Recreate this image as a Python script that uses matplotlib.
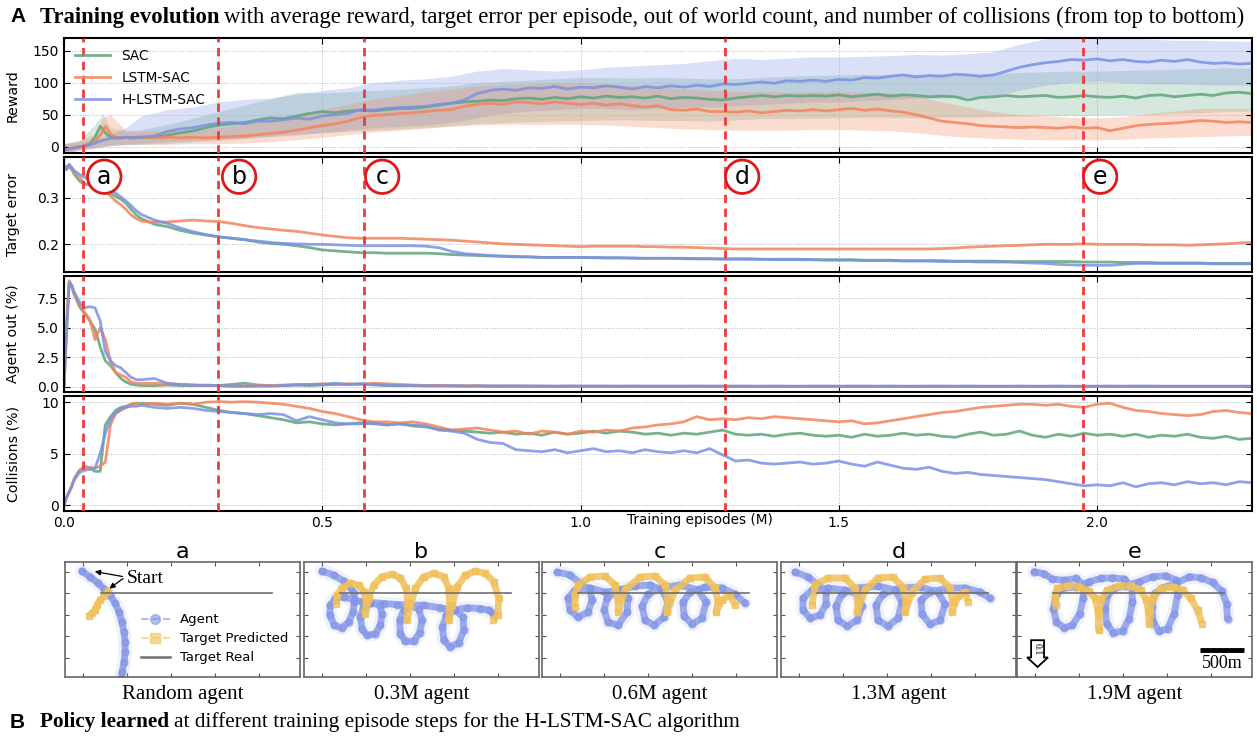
import matplotlib
matplotlib.use("Agg")
import matplotlib.pyplot as plt
import numpy as np
from matplotlib.lines import Line2D
from matplotlib.patches import Polygon

W, H = 1257, 740

# ---------------- training curves ----------------
# episode grid (M): fine at the start, then every 0.025 M
ep_early = [0.0, 0.005, 0.01, 0.015, 0.02, 0.03, 0.04, 0.05, 0.06, 0.07,
            0.08, 0.09, 0.10, 0.11, 0.12, 0.13, 0.14, 0.15]
episodes = np.concatenate([ep_early, np.round(np.arange(0.175, 2.3001, 0.025), 3)])

reward_sac = [-5, -4, -3, -2, -1, 0, 2, 5, 15, 32, 22, 15, 14, 14, 15, 14, 14, 15,
              15, 18, 22, 25, 30, 34, 36, 38, 42, 45,
              44, 48, 52, 55, 53, 56, 57, 56, 58, 60,
              60, 62, 65, 68, 70, 71, 73, 72, 75, 76,
              74, 77, 75, 78, 76, 79, 77, 78, 76, 79,
              75, 77, 76, 74, 73, 76, 78, 80, 78, 80,
              79, 80, 79, 81, 78, 80, 82, 79, 81, 80,
              78, 79, 78, 73, 77, 78, 80, 78, 79, 80,
              77, 78, 80, 78, 77, 79, 76, 80, 81, 78,
              80, 82, 80, 84, 85, 83]
reward_lstm = [-5, -4, -3, -2, -1, 0, 2, 4, 8, 18, 32, 20, 15, 14, 15, 14, 15, 15,
               14, 15, 14, 15, 14, 15, 16, 17, 19, 21,
               23, 26, 30, 33, 36, 40, 46, 49, 50, 52,
               53, 55, 57, 58, 63, 66, 68, 66, 70, 69,
               67, 70, 68, 66, 68, 65, 67, 64, 62, 64,
               58, 57, 59, 55, 55, 54, 56, 53, 55, 57,
               56, 58, 56, 58, 60, 57, 59, 56, 54, 50,
               45, 40, 38, 36, 33, 32, 31, 30, 31, 30,
               29, 31, 29, 30, 25, 29, 33, 35, 36, 37,
               39, 41, 40, 38, 39, 38]
reward_hlstm = [-5, -4, -3, -2, -2, 0, 1, 3, 6, 9, 11, 13, 14, 14, 15, 14, 15, 15,
                17, 24, 28, 30, 34, 37, 38, 36, 40, 40,
                42, 45, 43, 48, 50, 52, 58, 57, 60, 61,
                62, 63, 66, 68, 73, 83, 88, 90, 88, 92,
                91, 94, 90, 93, 92, 95, 93, 90, 94, 92,
                95, 93, 96, 94, 98, 97, 99, 101, 99, 103,
                102, 104, 102, 105, 104, 108, 107, 110, 112, 109,
                111, 110, 113, 112, 110, 112, 118, 124, 128, 131,
                133, 136, 135, 137, 134, 136, 133, 132, 135, 133,
                136, 132, 130, 131, 129, 130]

# reward spread (shaded), on its own coarser grid
band_ep = np.concatenate([[0.0, 0.03, 0.06, 0.075, 0.09, 0.12, 0.15],
                          np.round(np.arange(0.2, 2.3001, 0.05), 3)])
sac_lo = [-8, -3, 0, 2, 3, 3, 4,
          5, 8, 10, 13, 16, 18, 22, 24, 26, 28, 30, 33, 36, 38, 39, 40, 41, 42, 42, 41,
          41, 40, 42, 44, 44, 45, 45, 46, 46, 45, 46, 46, 47, 48, 48, 49, 49, 50, 50, 52,
          53, 55, 56]
sac_hi = [5, 10, 35, 52, 30, 25, 27,
          35, 45, 55, 65, 75, 85, 84, 86, 88, 90, 92, 95, 100, 102, 104, 106, 108, 108, 107, 108,
          107, 106, 106, 108, 110, 111, 112, 113, 112, 113, 114, 113, 114, 116, 117, 118, 118, 119, 120, 121,
          122, 123, 122]
lstm_lo = [-10, -5, -2, 0, 2, 4, 4,
           4, 5, 5, 6, 8, 11, 15, 19, 23, 26, 29, 32, 34, 35, 35, 35, 35, 34, 32, 30,
           28, 27, 26, 26, 26, 27, 27, 26, 25, 22, 18, 15, 13, 12, 11, 11, 11, 12, 14, 15,
           16, 17, 18]
lstm_hi = [5, 10, 20, 45, 50, 25, 24,
           25, 27, 30, 35, 42, 50, 58, 66, 75, 80, 86, 90, 95, 97, 98, 100, 100, 98, 96, 93,
           90, 88, 86, 86, 85, 86, 86, 85, 84, 80, 70, 62, 55, 50, 48, 46, 45, 47, 52, 56,
           60, 60, 60]
hlstm_lo = [-10, -5, -2, 0, 2, 4, 5,
            8, 10, 12, 14, 17, 20, 22, 26, 30, 32, 34, 38, 45, 52, 56, 58, 60, 60, 58, 60,
            62, 62, 64, 66, 68, 70, 70, 72, 74, 76, 76, 78, 80, 88, 96, 100, 102, 100, 98, 98,
            97, 96, 96]
hlstm_hi = [5, 8, 12, 15, 20, 30, 48,
            58, 62, 70, 74, 76, 82, 88, 92, 100, 104, 106, 110, 118, 122, 120, 118, 120, 124, 126, 128,
            130, 134, 138, 136, 138, 140, 140, 141, 142, 144, 143, 145, 148, 160, 168, 172, 172, 170, 168, 166,
            166, 165, 164]

err_sac = [0.365, 0.362, 0.368, 0.36, 0.35, 0.336, 0.328, 0.33, 0.333, 0.33, 0.318, 0.31, 0.303, 0.297, 0.288, 0.275, 0.263, 0.255,
           0.243, 0.238, 0.23, 0.224, 0.22, 0.216, 0.213, 0.21, 0.205, 0.202,
           0.2, 0.197, 0.193, 0.188, 0.186, 0.184, 0.182, 0.182, 0.181, 0.181,
           0.181, 0.181, 0.18, 0.178, 0.177, 0.176, 0.175, 0.174, 0.173, 0.173,
           0.172, 0.172, 0.172, 0.172, 0.171, 0.171, 0.171, 0.17, 0.17, 0.17,
           0.17, 0.17, 0.169, 0.169, 0.169, 0.169, 0.169, 0.168, 0.168, 0.168,
           0.168, 0.167, 0.167, 0.167, 0.167, 0.166, 0.166, 0.166, 0.165, 0.165,
           0.165, 0.165, 0.164, 0.164, 0.164, 0.164, 0.163, 0.163, 0.163, 0.163,
           0.163, 0.163, 0.162, 0.162, 0.162, 0.161, 0.161, 0.161, 0.16, 0.16,
           0.16, 0.16, 0.159, 0.159, 0.159, 0.159]
err_lstm = [0.36, 0.366, 0.37, 0.362, 0.355, 0.345, 0.33, 0.327, 0.332, 0.325, 0.313, 0.304, 0.293, 0.285, 0.275, 0.263, 0.255, 0.25,
            0.247, 0.248, 0.25, 0.252, 0.25, 0.249, 0.245, 0.24, 0.236, 0.233,
            0.23, 0.228, 0.224, 0.22, 0.217, 0.214, 0.213, 0.213, 0.213, 0.213,
            0.212, 0.211, 0.21, 0.209, 0.207, 0.205, 0.203, 0.201, 0.2, 0.199,
            0.198, 0.197, 0.196, 0.195, 0.196, 0.196, 0.196, 0.196, 0.195, 0.195,
            0.194, 0.194, 0.193, 0.192, 0.191, 0.19, 0.19, 0.19, 0.19, 0.19,
            0.19, 0.19, 0.19, 0.19, 0.19, 0.19, 0.19, 0.19, 0.19, 0.19,
            0.19, 0.191, 0.192, 0.194, 0.195, 0.196, 0.197, 0.198, 0.199, 0.2,
            0.2, 0.2, 0.201, 0.2, 0.2, 0.2, 0.2, 0.199, 0.199, 0.199,
            0.198, 0.199, 0.2, 0.201, 0.203, 0.204]
err_hlstm = [0.37, 0.36, 0.372, 0.365, 0.358, 0.35, 0.344, 0.338, 0.335, 0.33, 0.322, 0.317, 0.31, 0.302, 0.293, 0.283, 0.272, 0.264,
             0.252, 0.245, 0.235, 0.227, 0.221, 0.216, 0.213, 0.21, 0.207, 0.204,
             0.202, 0.201, 0.2, 0.2, 0.199, 0.198, 0.197, 0.197, 0.197, 0.197,
             0.197, 0.196, 0.193, 0.185, 0.18, 0.178, 0.176, 0.175, 0.174, 0.173,
             0.172, 0.172, 0.172, 0.172, 0.172, 0.171, 0.171, 0.171, 0.17, 0.17,
             0.17, 0.169, 0.169, 0.169, 0.168, 0.168, 0.168, 0.168, 0.167, 0.167,
             0.167, 0.167, 0.166, 0.166, 0.166, 0.165, 0.165, 0.165, 0.164, 0.164,
             0.164, 0.163, 0.163, 0.163, 0.162, 0.162, 0.162, 0.161, 0.16, 0.159,
             0.157, 0.156, 0.155, 0.155, 0.155, 0.157, 0.159, 0.159, 0.159, 0.159,
             0.159, 0.159, 0.158, 0.158, 0.158, 0.158]

out_sac = [0, 5.0, 8.9, 8.5, 7.8, 6.8, 6.2, 5.6, 4.9, 3.4, 2.2, 1.8, 1.2, 0.7, 0.4, 0.2, 0.15, 0.1,
           0.1, 0.15, 0.1, 0.1, 0.15, 0.1, 0.2, 0.3, 0.15, 0.1,
           0.1, 0.15, 0.1, 0.15, 0.2, 0.2, 0.25, 0.15, 0.1, 0.1,
           0.1, 0.08, 0.1, 0.08, 0.06, 0.08, 0.06, 0.05, 0.06, 0.05,
           0.05, 0.04, 0.05, 0.05, 0.04, 0.05, 0.04, 0.05, 0.04, 0.04,
           0.04, 0.05, 0.04, 0.04, 0.05, 0.04, 0.04, 0.04, 0.05, 0.04,
           0.04, 0.04, 0.05, 0.04, 0.04, 0.04, 0.04, 0.05, 0.04, 0.04,
           0.04, 0.04, 0.04, 0.05, 0.04, 0.04, 0.04, 0.04, 0.04, 0.04,
           0.05, 0.04, 0.04, 0.04, 0.04, 0.04, 0.05, 0.04, 0.04, 0.04,
           0.04, 0.04, 0.04, 0.04, 0.04, 0.04]
out_lstm = [0, 5.5, 9.0, 8.6, 7.9, 7.0, 6.3, 5.7, 4.0, 5.0, 4.0, 2.2, 1.2, 1.0, 0.8, 0.4, 0.3, 0.3,
            0.3, 0.25, 0.2, 0.15, 0.1, 0.1, 0.05, 0.05, 0.1, 0.1,
            0.15, 0.2, 0.2, 0.25, 0.2, 0.25, 0.2, 0.3, 0.25, 0.2,
            0.15, 0.1, 0.12, 0.08, 0.1, 0.08, 0.06, 0.07, 0.05, 0.06,
            0.05, 0.05, 0.06, 0.05, 0.05, 0.04, 0.05, 0.05, 0.04, 0.05,
            0.05, 0.04, 0.05, 0.05, 0.04, 0.05, 0.04, 0.04, 0.05, 0.04,
            0.04, 0.05, 0.04, 0.04, 0.04, 0.05, 0.04, 0.04, 0.04, 0.04,
            0.05, 0.04, 0.04, 0.04, 0.04, 0.04, 0.04, 0.05, 0.04, 0.04,
            0.04, 0.04, 0.04, 0.04, 0.05, 0.04, 0.04, 0.04, 0.04, 0.04,
            0.04, 0.04, 0.04, 0.04, 0.04, 0.04]
out_hlstm = [0, 4.5, 8.8, 8.6, 8.0, 7.2, 6.7, 6.8, 6.7, 5.6, 3.0, 2.2, 1.8, 1.6, 1.2, 0.8, 0.6, 0.6,
             0.7, 0.3, 0.2, 0.15, 0.1, 0.1, 0.05, 0.05, 0.05, 0.05,
             0.1, 0.15, 0.2, 0.2, 0.3, 0.2, 0.25, 0.2, 0.15, 0.1,
             0.1, 0.08, 0.06, 0.08, 0.05, 0.06, 0.05, 0.05, 0.06, 0.05,
             0.05, 0.04, 0.05, 0.04, 0.05, 0.05, 0.04, 0.04, 0.05, 0.04,
             0.04, 0.04, 0.05, 0.04, 0.04, 0.04, 0.05, 0.04, 0.04, 0.04,
             0.04, 0.04, 0.04, 0.04, 0.05, 0.04, 0.04, 0.04, 0.04, 0.04,
             0.04, 0.05, 0.04, 0.04, 0.04, 0.04, 0.04, 0.04, 0.04, 0.04,
             0.04, 0.04, 0.04, 0.04, 0.04, 0.04, 0.04, 0.05, 0.04, 0.04,
             0.04, 0.04, 0.04, 0.04, 0.04, 0.04]

coll_sac = [0, 0.8, 1.3, 1.9, 2.6, 3.4, 3.8, 3.6, 3.3, 3.3, 7.8, 8.6, 9.2, 9.5, 9.6, 9.8, 9.9, 9.9,
            9.8, 9.7, 9.9, 9.8, 9.5, 9.2, 9.0, 8.9, 8.7, 8.5,
            8.3, 8.0, 8.1, 7.9, 7.8, 7.9, 8.0, 7.9, 7.8, 7.9,
            7.7, 7.6, 7.4, 7.3, 7.2, 7.1, 7.0, 7.1, 6.9, 7.0,
            6.8, 7.1, 6.9, 7.0, 7.2, 7.0, 7.2, 7.1, 6.9, 7.0,
            6.8, 7.0, 6.9, 7.1, 7.3, 6.9, 6.8, 6.9, 6.7, 6.9,
            7.0, 6.8, 6.7, 6.8, 6.6, 6.9, 6.7, 6.8, 7.0, 6.8,
            6.9, 6.7, 6.6, 6.9, 7.1, 6.8, 6.9, 7.2, 6.8, 6.6,
            6.9, 6.7, 7.0, 6.8, 6.9, 6.7, 6.9, 6.6, 6.8, 6.7,
            6.9, 6.6, 6.5, 6.7, 6.4, 6.5]
coll_lstm = [0, 0.8, 1.3, 1.9, 2.6, 3.4, 3.6, 3.7, 3.6, 3.8, 4.2, 7.8, 8.9, 9.2, 9.5, 9.8, 9.9, 9.8,
             9.9, 9.8, 9.9, 9.8, 10.0, 10.05, 10.0, 10.05, 10.0, 9.9,
             9.8, 9.6, 9.4, 9.1, 8.9, 8.6, 8.3, 8.1, 8.1, 8.0,
             8.1, 7.9, 7.6, 7.3, 7.4, 7.5, 7.3, 7.1, 7.2, 6.9,
             7.2, 7.1, 6.9, 7.2, 7.1, 7.3, 7.2, 7.5, 7.6, 7.8,
             7.9, 8.1, 8.6, 8.3, 8.4, 8.3, 8.5, 8.4, 8.6, 8.5,
             8.4, 8.3, 8.2, 8.1, 8.2, 7.9, 8.0, 8.2, 8.4, 8.6,
             8.8, 9.0, 9.1, 9.3, 9.5, 9.6, 9.7, 9.8, 9.8, 9.7,
             9.8, 9.6, 9.5, 9.8, 9.9, 9.5, 9.2, 9.1, 8.9, 8.8,
             8.7, 8.8, 9.1, 9.2, 9.0, 8.9]
coll_hlstm = [0, 0.8, 1.3, 1.8, 2.5, 3.2, 3.4, 3.5, 3.6, 5.0, 7.0, 8.3, 9.0, 9.3, 9.5, 9.6, 9.6, 9.7,
              9.5, 9.4, 9.5, 9.4, 9.2, 9.1, 9.0, 8.9, 8.8, 8.9,
              8.8, 8.2, 8.6, 8.3, 8.0, 7.9, 7.9, 8.0, 7.8, 7.9,
              7.8, 7.7, 7.3, 7.2, 7.0, 6.4, 6.1, 6.0, 5.4, 5.3,
              5.2, 5.4, 5.1, 5.3, 5.5, 5.2, 5.3, 5.1, 5.4, 5.2,
              5.1, 5.3, 5.1, 5.5, 4.9, 4.3, 4.4, 4.1, 4.0, 4.1,
              4.2, 4.0, 4.1, 4.3, 4.0, 3.8, 4.2, 3.9, 3.6, 3.5,
              3.7, 3.3, 3.1, 3.2, 3.0, 2.9, 2.8, 2.7, 2.6, 2.5,
              2.3, 2.1, 1.9, 2.0, 1.9, 2.2, 1.8, 2.1, 2.2, 2.0,
              2.3, 2.1, 2.2, 2.0, 2.3, 2.2]

checkpoints = [0.036, 0.298, 0.58, 1.28, 1.973]
checkpoint_tags = ["a", "b", "c", "d", "e"]
tag_x = [0.078, 0.339, 0.616, 1.313, 2.006]

# ---------------- policy snapshots (metres) ----------------
target_real_x = [200, 2150]
target_real_y = [0, 0]

a_agent = [(-15, 259), (80, 190), (170, 120), (239, 50), (307, -20), (364, -113), (409, -217),
           (443, -334), (466, -450), (477, -566), (477, -682), (466, -798), (443, -915), (432, -1008)]
a_pred = [(284, 27), (239, -31), (193, -78), (159, -136), (136, -194), (102, -229), (68, -264)]

b_agent = [(-1, 259), (132, 212), (246, 142), (322, 76), (359, 1), (367, -98), (352, -215), (303, -331),
           (227, -401), (140, -370), (87, -253), (94, -137), (151, -59), (246, -40), (359, -71), (454, -98),
           (549, -106), (655, -137), (682, -234), (663, -370), (606, -471), (511, -486), (454, -416),
           (435, -273), (473, -156), (549, -106), (700, -118), (852, -129), (1004, -137), (1098, -184),
           (1136, -312), (1110, -455), (1042, -556), (947, -556), (890, -467), (882, -312), (928, -195),
           (1004, -137), (1155, -137), (1345, -168), (1515, -195), (1603, -273), (1610, -428), (1553, -572),
           (1459, -622), (1383, -544), (1368, -389), (1413, -253), (1496, -195), (1648, -168), (1800, -176),
           (1894, -195), (1944, -234)]
b_pred = [(162, -118), (170, -21), (227, 65), (322, 115), (416, 96), (481, 18), (503, -98), (492, -234),
          (530, -59), (587, 96), (682, 193), (795, 220), (890, 181), (958, 57), (973, -98), (966, -312),
          (1004, -137), (1060, 57), (1155, 193), (1269, 232), (1383, 193), (1440, 57), (1451, -137),
          (1440, -312), (1477, -137), (1534, 76), (1629, 212), (1743, 259), (1856, 232), (1951, 135),
          (2008, -59), (1997, -253), (1944, -312)]

c_agent = [(-34, 248), (114, 213), (227, 120), (341, 38), (364, -78), (318, -217), (204, -276), (114, -194),
           (91, -55), (170, 38), (341, 62), (511, 15), (682, 38), (772, -55), (761, -217), (659, -369),
           (545, -334), (500, -194), (534, -55), (659, 38), (852, 85), (1022, 97), (1159, 38), (1227, -101),
           (1181, -276), (1068, -369), (966, -311), (932, -148), (1000, -8), (1136, 62), (1363, 97),
           (1568, 38), (1659, -101), (1613, -287), (1500, -357), (1409, -264), (1397, -101), (1477, 15),
           (1647, 73), (1840, 62), (1988, -8), (2102, -113)]
c_pred = [(170, -159), (170, -20), (204, 97), (341, 190), (511, 201), (625, 97), (659, -78), (659, -217),
          (738, 38), (909, 190), (1079, 201), (1193, 97), (1227, -78), (1215, -217), (1306, 38),
          (1477, 178), (1647, 190), (1761, 62), (1795, -101), (1772, -217), (1840, -78), (1931, -20),
          (1988, -136)]

d_agent = [(-45, 248), (102, 190), (216, 97), (307, 15), (307, -124), (239, -252), (125, -287), (45, -194),
           (45, -55), (148, 38), (329, 62), (523, 38), (670, -8), (716, -148), (659, -311), (545, -380),
           (443, -311), (420, -148), (488, -8), (670, 62), (897, 85), (1091, 38), (1170, -101),
           (1125, -287), (1011, -380), (897, -311), (875, -136), (954, -8), (1147, 62), (1375, 73),
           (1579, 15), (1659, -124), (1602, -311), (1488, -357), (1397, -241), (1386, -78), (1488, 15),
           (1693, 62), (1886, 62), (2056, 15), (2170, -55)]
d_pred = [(148, -136), (182, 97), (329, 178), (523, 178), (636, 62), (670, -113), (659, -217), (750, 38),
          (897, 178), (1068, 190), (1181, 73), (1215, -101), (1204, -217), (1284, 15), (1431, 166),
          (1602, 178), (1715, 62), (1749, -101), (1738, -217), (1806, -31), (1886, 15), (1920, -101)]

e_agent = [(-11, 251), (103, 228), (198, 166), (330, 150), (463, 173), (558, 96), (546, -59), (508, -234),
           (425, -370), (330, -401), (243, -331), (209, -176), (236, -21), (311, 57), (463, 76), (615, 135),
           (747, 173), (880, 181), (1013, 166), (1100, 76), (1107, -98), (1069, -292), (994, -440),
           (887, -455), (812, -350), (797, -176), (823, -21), (899, 57), (1032, 88), (1183, 135),
           (1335, 193), (1486, 204), (1600, 154), (1619, -21), (1581, -234), (1505, -409), (1411, -440),
           (1342, -331), (1327, -156), (1365, 1), (1448, 65), (1600, 115), (1752, 193), (1884, 181),
           (2017, 127), (2123, 26), (2176, -118), (2187, -292)]
e_pred = [(236, -137), (228, -21), (255, 57), (368, 88), (501, 76), (615, 26), (683, -59), (713, -195),
          (728, -428), (721, -253), (747, -79), (823, 38), (956, 88), (1088, 88), (1202, 38), (1266, -79),
          (1289, -215), (1297, -350), (1304, -195), (1342, -40), (1429, 57), (1562, 76), (1676, 38),
          (1771, -59), (1846, -195), (1896, -350)]

snap_titles = ["a", "b", "c", "d", "e"]
snap_captions = ["Random agent", "0.3M agent", "0.6M agent", "1.3M agent", "1.9M agent"]

# ---------------- style ----------------
C_SAC, C_LSTM, C_HLSTM = "#5ea57a", "#f2845c", "#7b91e3"
C_AGENT, C_PRED = "#8193e6", "#f0c15c"
SERIF = "Liberation Serif"

plt.rcParams["font.family"] = "DejaVu Sans"
fig = plt.figure(figsize=(W / 100, H / 100), dpi=100)


def rect(l, t, r, b):
    return [l / W, 1 - b / H, (r - l) / W, (b - t) / H]


panels = [(37.7, 153.3), (156.7, 272.3), (276, 392.3), (396, 511)]
axes = [fig.add_axes(rect(64, t, 1252, b)) for t, b in panels]

series = [
    (reward_sac, reward_lstm, reward_hlstm, "Reward", (-10, 170), [0, 50, 100, 150], None),
    (err_sac, err_lstm, err_hlstm, "Target error", (0.14, 0.388), [0.2, 0.3], None),
    (out_sac, out_lstm, out_hlstm, "Agent out (%)", (-0.47, 9.4), [0.0, 2.5, 5.0, 7.5], "%.1f"),
    (coll_sac, coll_lstm, coll_hlstm, "Collisions (%)", (-0.54, 10.6), [0, 5, 10], None),
]

for ax, (s1, s2, s3, lab, ylim, yt, fmt) in zip(axes, series):
    if lab == "Reward":
        ax.fill_between(band_ep, sac_lo, sac_hi, color=C_SAC, alpha=0.25, lw=0)
        ax.fill_between(band_ep, hlstm_lo, hlstm_hi, color=C_HLSTM, alpha=0.28, lw=0)
        ax.fill_between(band_ep, lstm_lo, lstm_hi, color=C_LSTM, alpha=0.28, lw=0)
    ax.plot(episodes, s1, color=C_SAC, lw=2, alpha=0.85, label="SAC")
    ax.plot(episodes, s2, color=C_LSTM, lw=2, alpha=0.85, label="LSTM-SAC")
    ax.plot(episodes, s3, color=C_HLSTM, lw=2, alpha=0.85, label="H-LSTM-SAC")
    for cx in checkpoints:
        ax.axvline(cx, color="#ee3b3b", lw=2, ls=(0, (3, 2)), zorder=5)
    ax.set_xlim(0, 2.3)
    ax.set_ylim(*ylim)
    ax.set_yticks(yt)
    if fmt:
        ax.set_yticklabels([fmt % v for v in yt])
    ax.set_xticks([0, 0.5, 1.0, 1.5, 2.0])
    ax.grid(True, ls=":", color="#b4b4b4", lw=0.7)
    ax.tick_params(direction="in", top=True, right=True, labelsize=10, length=4)
    for sp in ax.spines.values():
        sp.set_linewidth(1.5)
    ax.set_ylabel(lab, fontsize=10.2)
    ax.yaxis.set_label_coords(-0.037, 0.5)
    if ax is not axes[-1]:
        ax.tick_params(labelbottom=False)

axes[0].legend(loc="upper left", frameon=False, fontsize=9.8, handlelength=2.6,
               borderaxespad=0.4, labelspacing=0.6)
axes[-1].set_xticklabels(["0.0", "0.5", "1.0", "1.5", "2.0"])
axes[-1].set_xlabel("Training episodes (M)", fontsize=9.8)
axes[-1].xaxis.set_label_coords(0.535, -0.015)

for tag, tx in zip(checkpoint_tags, tag_x):
    axes[1].text(tx, 0.345, tag, fontsize=17, ha="center", va="center", zorder=6,
                 bbox=dict(boxstyle="circle,pad=0.2", fc="white", ec="#e01818", lw=2))

# ---------------- policy panels ----------------
snap_data = [(a_agent, a_pred), (b_agent, b_pred), (c_agent, c_pred),
             (d_agent, d_pred), (e_agent, e_pred)]
lefts = [65, 304, 542, 781, 1017]
snap_axes = []
for i, (left, (agent, pred)) in enumerate(zip(lefts, snap_data)):
    ax = fig.add_axes(rect(left, 562, left + 235, 677))
    snap_axes.append(ax)
    ax_x, ax_y = np.array(agent).T
    pr_x, pr_y = np.array(pred).T
    ax.plot(ax_x, ax_y, color=C_AGENT, lw=10, alpha=0.12, solid_capstyle="round")
    ax.plot(ax_x, ax_y, color=C_AGENT, lw=5, alpha=0.75, solid_capstyle="round")
    ax.plot(ax_x, ax_y, "o", color=C_AGENT, ms=5, alpha=0.6, mec=C_AGENT)
    ax.plot(pr_x, pr_y, color=C_PRED, lw=5, alpha=0.85, solid_capstyle="butt")
    ax.plot(pr_x, pr_y, "s", color=C_PRED, ms=5, alpha=0.8)
    ax.plot(target_real_x, target_real_y, color="#707070", lw=1.2)
    ax.set_xlim(-205, 2465)
    ax.set_ylim(-970, 364)
    ax.set_xticks([0, 500, 1000, 1500, 2000])
    ax.set_yticks([-750, -500, -250, 0, 250])
    ax.tick_params(direction="in", top=True, right=True, labelbottom=False,
                   labelleft=False, length=3, color="#555555")
    for sp in ax.spines.values():
        sp.set_color("#666666")
        sp.set_linewidth(1.2)
    ax.set_title(snap_titles[i], fontsize=16, pad=2)
    fig.text((left + 117.5) / W, 1 - 695 / H, snap_captions[i], family=SERIF,
             fontsize=15, ha="center", va="center")

# legend and start marker on the random agent
ax = snap_axes[0]
handles = [Line2D([], [], color=C_AGENT, ls="--", marker="o", ms=7, alpha=0.6, lw=1.5),
           Line2D([], [], color=C_PRED, ls="--", marker="s", ms=7, alpha=0.6, lw=1.5),
           Line2D([], [], color="#707070", lw=1.8)]
ax.legend(handles, ["Agent", "Target Predicted", "Target Real"], loc="upper left",
          bbox_to_anchor=(0.3, 0.6), frameon=False, fontsize=9.5, handlelength=2.2,
          borderaxespad=0, labelspacing=0.45, handletextpad=0.8)
ax.text(500, 178, "Start", family=SERIF, fontsize=14, va="center")
for tip in [(102, 259), (273, 38)]:
    ax.annotate("", xy=tip, xytext=(480, 190),
                arrowprops=dict(arrowstyle="-|>", color="black", lw=0.9, mutation_scale=8))

# north arrow and scale bar on the last snapshot
ax = snap_axes[-1]
arrow = Polygon([(0.06, 0.32), (0.115, 0.32), (0.115, 0.17), (0.132, 0.17), (0.0875, 0.087),
                 (0.043, 0.17), (0.06, 0.17)], closed=True, transform=ax.transAxes,
                fc="white", ec="black", lw=1.3)
ax.add_patch(arrow)
ax.text(0.0875, 0.245, "0.1", transform=ax.transAxes, rotation=270, fontsize=7,
        family=SERIF, ha="center", va="center")
ax.plot([1875, 2375], [-659, -659], color="black", lw=3.5, solid_capstyle="butt")
ax.text(2125, -815, "500m", family=SERIF, fontsize=13, ha="center", va="center")

# ---------------- headings ----------------
renderer = fig.canvas.get_renderer()


def heading(y_px, letter, bold, rest, size):
    y = 1 - y_px / H
    fig.text(10 / W, y, letter, family="Liberation Sans", weight="bold", fontsize=15, va="center")
    t = fig.text(40 / W, y, bold, family=SERIF, weight="bold", fontsize=size, va="center")
    bb = t.get_window_extent(renderer=renderer)
    fig.text((bb.x1 + 5) / W, y, rest, family=SERIF, fontsize=size, va="center")


heading(17, "A", "Training evolution",
        "with average reward, target error per episode, out of world count, and number of collisions (from top to bottom)",
        16.4)
heading(722, "B", "Policy learned",
        "at different training episode steps for the H-LSTM-SAC algorithm", 15.3)

fig.savefig("out.png", dpi=100, facecolor="white")
